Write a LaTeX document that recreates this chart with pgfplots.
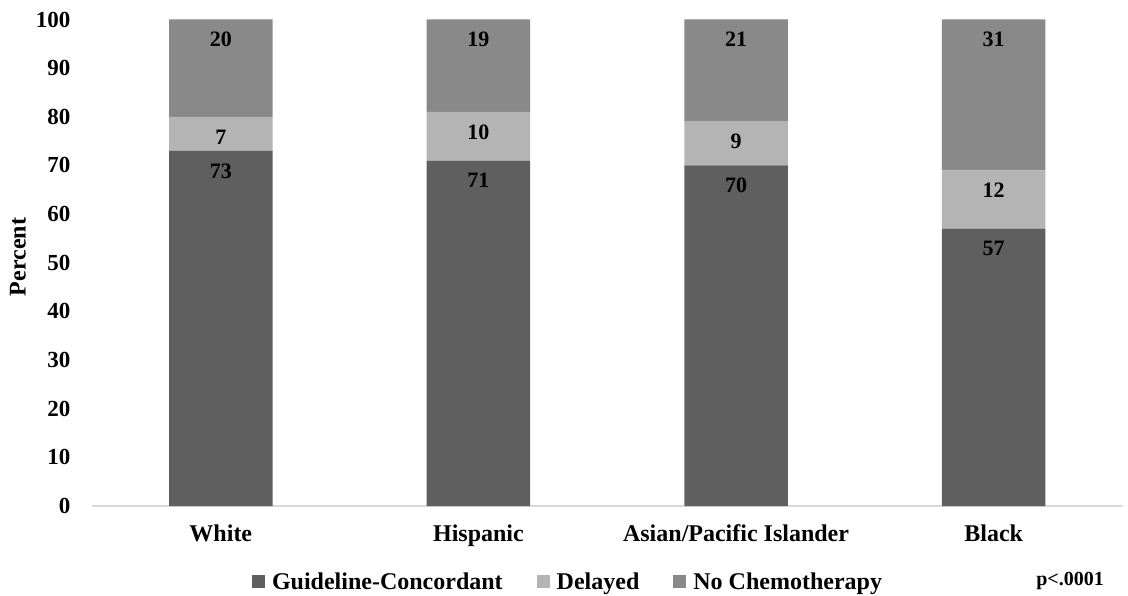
\documentclass[border=0pt]{standalone}
\usepackage{pgfplots}
\pgfplotsset{compat=1.18}
\usepackage{pgfplotstable}
\usepackage{fontspec}
\setmainfont{Liberation Serif}
\definecolor{cdark}{RGB}{95,95,95}
\definecolor{clight}{RGB}{180,180,180}
\definecolor{cmid}{RGB}{137,137,137}
\definecolor{caxis}{RGB}{217,217,217}
\pgfplotstableread{
x a b c
0 73 7 20
1 71 10 19
2 70 9 21
3 57 12 31
}\datatab
\begin{document}
\begin{tikzpicture}
\path[use as bounding box] (0,0) rectangle (564pt,297.5pt);
\begin{axis}[
  at={(46pt,44.5pt)}, anchor=south west,
  scale only axis, width=515.25pt, height=243.25pt,
  ybar stacked, bar width=51.75pt,
  xmin=-0.5, xmax=3.5, ymin=0, ymax=100,
  enlargelimits=false,
  xtick={0,1,2,3},
  xticklabels={White,Hispanic,Asian/Pacific Islander,Black},
  ytick={0,10,...,100},
  axis line style={draw=none},
  major tick length=0pt,
  /pgf/number format/assume math mode=true,
  xticklabel style={font=\bfseries\fontsize{12}{14}\selectfont, anchor=base, yshift=-17.5pt},
  yticklabel style={font=\bfseries\fontsize{11.5}{14}\selectfont, anchor=east, xshift=-7.3pt},
  visualization depends on={rawy \as \segh},
  nodes near coords={\pgfmathprintnumber{\segh}},
  every node near coord/.append style={anchor=center, text=black,
    font=\bfseries\fontsize{11}{13}\selectfont, yshift=\segh*1.21625pt-10pt},
  legend columns=-1,
  legend style={at={(0.4629,-0.1583)}, anchor=center, draw=none, fill=none,
    font=\bfseries\fontsize{12}{14}\selectfont,
    column sep=1.5pt,
    /tikz/every even column/.append style={column sep=15pt}},
  legend image code/.code={\fill[#1] (0pt,-2.5pt) rectangle (6.5pt,4pt);},
]
\addplot[fill=cdark, draw=none] table[x=x, y=a] {\datatab};
\addplot[fill=clight, draw=none] table[x=x, y=b] {\datatab};
\addplot[fill=cmid, draw=none] table[x=x, y=c] {\datatab};
\legend{Guideline-Concordant, Delayed, No Chemotherapy}
\draw[caxis, line width=0.8pt] (rel axis cs:0,0) -- (rel axis cs:1,0);
\end{axis}
\node[rotate=90, font=\bfseries\fontsize{12}{14}\selectfont] at (9pt,169pt) {Percent};
\node[font=\bfseries\fontsize{10}{12}\selectfont] at (535pt,7pt) {p<.0001};
\end{tikzpicture}
\end{document}
